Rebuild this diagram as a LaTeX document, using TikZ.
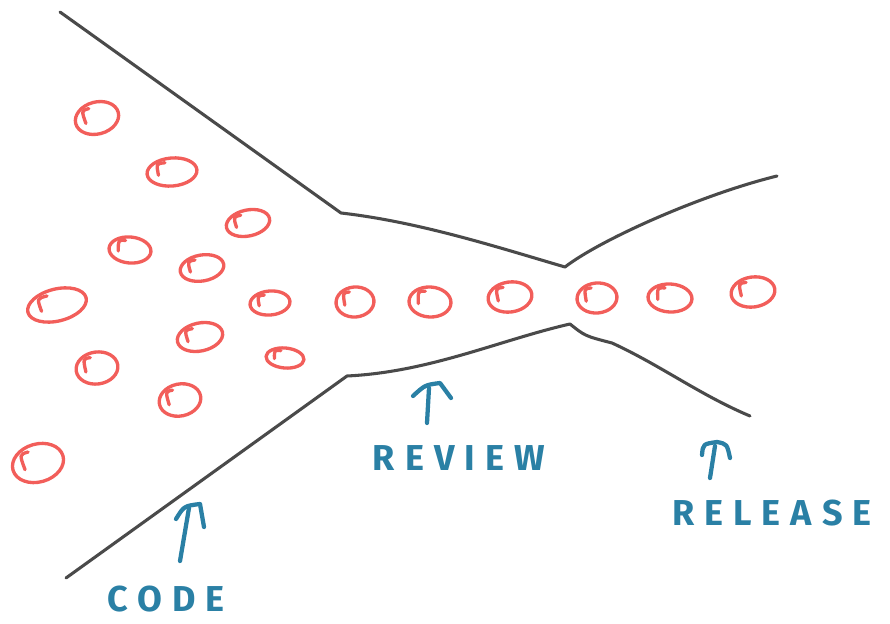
\documentclass[tikz,border=0pt]{standalone}
\usepackage{fontspec}
\setmainfont{Fira Sans}
\newfontfamily\handfont[LetterSpace=28]{Fira Sans}
\definecolor{funnelgray}{HTML}{4A4A4A}
\definecolor{itemred}{HTML}{F25E5A}
\definecolor{labelblue}{HTML}{2A80A5}
\tikzset{
  wall/.style={draw=funnelgray, line width=2.3pt, line cap=round, line join=round},
  item/.style={draw=itemred, line width=2.5pt, line cap=round, line join=round},
  pointer/.style={draw=labelblue, line width=3.2pt, line cap=round, line join=round},
  stage/.style={text=labelblue, font=\handfont\bfseries\fontsize{27}{27}\selectfont, inner sep=0pt}
}
% one hand-drawn work item: centre x, centre y, radii, tilt
\newcommand\redblob[5]{%
  \begin{scope}[shift={(#1,#2)}, rotate=#5]
    \draw[item] (0,0) ellipse [x radius=#3, y radius=#4];
    \draw[item] (-0.25*#3,-0.7*#4) .. controls (-0.6*#3,-0.7*#4) .. (-0.55*#3,0.15*#4);
  \end{scope}}
\begin{document}
\begin{tikzpicture}[x=0.75pt, y=-0.75pt]
\useasboundingbox (0,0) rectangle (890,624);

% funnel walls
\coordinate (tl) at (60,12);
\coordinate (tk) at (341,213);
\coordinate (tn) at (565,267);
\coordinate (tr) at (777,176);
\coordinate (bl) at (66,578);
\coordinate (bk) at (347,376);
\coordinate (bn) at (570,324);
\coordinate (br) at (750,416);
\draw[wall] (tl) -- (tk) .. controls (420,222) and (500,248) .. (tn)
  .. controls (600,240) and (700,195) .. (tr);
\draw[wall] (bl) -- (bk) .. controls (430,372) and (500,340) .. (bn)
  .. controls (585,336) .. (612,343) .. controls (660,365) and (700,395) .. (br);

% work items waiting to be coded
\redblob{97}{118}{22}{16}{15}
\redblob{172}{172}{25}{14}{5}
\redblob{248}{223}{22}{13}{12}
\redblob{130}{250}{21}{13}{-5}
\redblob{202}{268}{22}{13}{10}
\redblob{57}{305}{30}{16}{14}
\redblob{270}{303}{20}{12}{5}
\redblob{200}{337}{23}{14}{12}
\redblob{97}{368}{21}{16}{8}
\redblob{285}{358}{19}{10}{-5}
\redblob{180}{400}{21}{16}{12}
\redblob{38}{463}{26}{19}{16}
% items in review and release
\redblob{355}{302}{19}{15}{5}
\redblob{430}{302}{21}{15}{-3}
\redblob{510}{297}{22}{15}{8}
\redblob{597}{298}{20}{15}{5}
\redblob{670}{298}{22}{14}{-3}
\redblob{753}{292}{22}{15}{8}

% stage labels
\node[stage] (code) at (166,599) {CODE};
\node[stage] (review) at (459,458) {REVIEW};
\node[stage] (release) at (772,513) {RELEASE};

% arrows pointing at the stages
\coordinate (codetail) at (180,561);
\coordinate (codetip) at (189,508);
\draw[pointer] (codetail) -- (codetip);
\draw[pointer] (176,519) .. controls (184,506) .. (200,504) -- (204,527);
\coordinate (reviewtail) at (427,423);
\coordinate (reviewtip) at (429,388);
\draw[pointer] (reviewtail) -- (reviewtip);
\draw[pointer] (413,396) .. controls (425,385) .. (440,383) -- (451,398);
\coordinate (releasetail) at (710,478);
\coordinate (releasetip) at (715,446);
\draw[pointer] (releasetail) -- (releasetip);
\draw[pointer] (702,455) .. controls (703,444) .. (717,442) .. controls (727,444) .. (730,458);
\end{tikzpicture}
\end{document}
